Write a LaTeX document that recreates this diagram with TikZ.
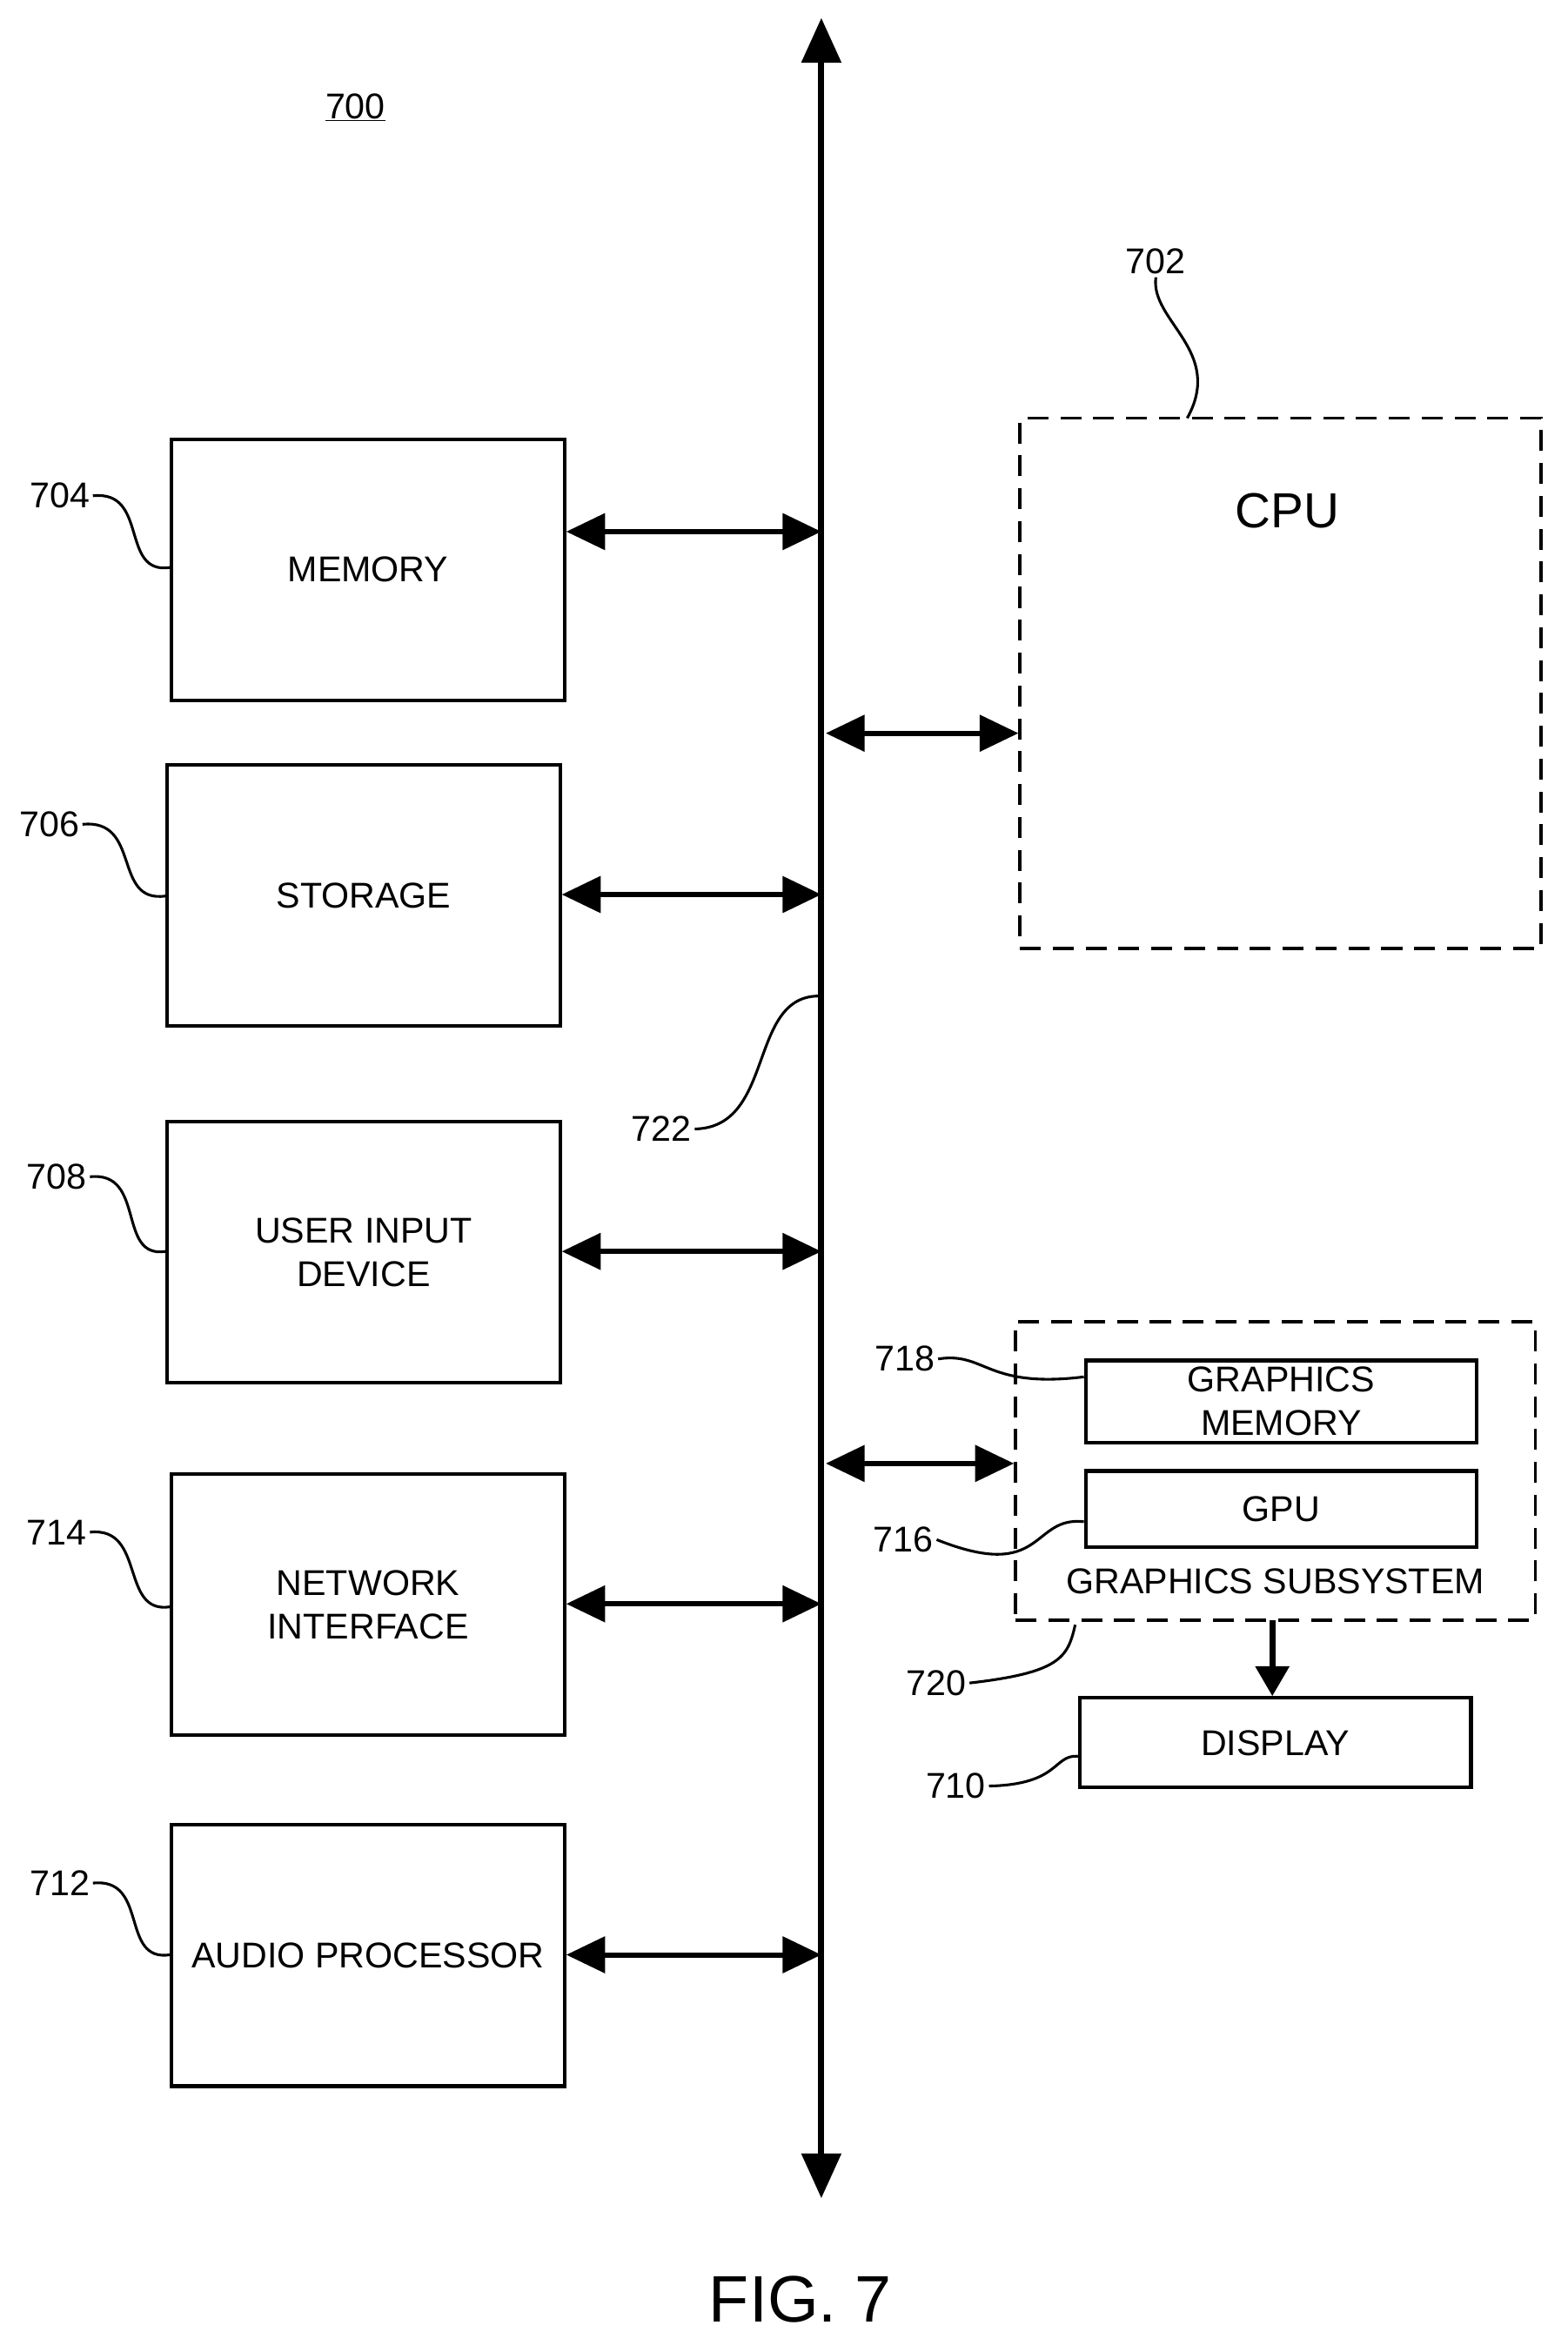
\documentclass[tikz,border=0pt]{standalone}
\usepackage{fontspec}
\setmainfont{Liberation Sans}
\usetikzlibrary{arrows.meta}
\begin{document}
\begin{tikzpicture}[x=1pt,y=-1pt,
  box/.style={draw,line width=2.4pt,inner sep=0pt,align=center,font=\fontsize{24}{29}\selectfont},
  dbox/.style={draw,line width=2pt,dash pattern=on 14pt off 8pt,inner sep=0pt},
  lbl/.style={font=\fontsize{24}{29}\selectfont,inner sep=2pt},
  sq/.style={line width=1.8pt},
  dar/.style={line width=3.5pt,{Triangle[length=26pt,width=24pt]}-{Triangle[length=26pt,width=24pt]}},
  sar/.style={line width=4pt,-{Triangle[length=20pt,width=22pt]}}]
\useasboundingbox (0,0) rectangle (1050,1575);
\newcommand{\bx}[6]{\node[box,minimum width=#4-#2,minimum height=#5-#3] (#1) at ({(#2+#4)/2},{(#3+#5)/2}) {#6};}
% bus
\coordinate (bt) at (550,12);
\coordinate (bb) at (550,1472);
\draw[line width=4pt,{Triangle[length=30pt,width=26pt]}-{Triangle[length=30pt,width=26pt]}] (bt) -- (bb);
\node[lbl] (n700) at (238,72) {\underline{700}};
% left boxes
\bx{mem}{115}{294}{378}{469}{MEMORY}
\bx{sto}{112}{512}{375}{687}{STORAGE}
\bx{uid}{112}{751}{375}{926}{USER INPUT\\DEVICE}
\bx{net}{115}{987}{378}{1162}{NETWORK\\INTERFACE}
\bx{aud}{115}{1222}{378}{1397}{AUDIO PROCESSOR}
\coordinate (b1) at (550,356); \draw[dar] (mem.east |- b1) -- (b1);
\coordinate (b2) at (550,599); \draw[dar] (sto.east |- b2) -- (b2);
\coordinate (b3) at (550,838); \draw[dar] (uid.east |- b3) -- (b3);
\coordinate (b4) at (550,1074); \draw[dar] (net.east |- b4) -- (b4);
\coordinate (b5) at (550,1309); \draw[dar] (aud.east |- b5) -- (b5);
\node[lbl] (n704) at (40,332) {704};
\draw[sq] (n704.east) .. controls (100,328) and (80,385) .. (mem.west |- 0,380);
\node[lbl] (n706) at (33,552) {706};
\draw[sq] (n706.east) .. controls (95,548) and (75,605) .. (sto.west |- 0,600);
\node[lbl] (n708) at (38,788) {708};
\draw[sq] (n708.east) .. controls (98,784) and (78,843) .. (uid.west |- 0,838);
\node[lbl] (n714) at (38,1026) {714};
\draw[sq] (n714.east) .. controls (98,1022) and (80,1081) .. (net.west |- 0,1076);
\node[lbl] (n712) at (40,1261) {712};
\draw[sq] (n712.east) .. controls (100,1257) and (80,1314) .. (aud.west |- 0,1309);
% CPU
\node[dbox,minimum width=349pt,minimum height=355pt] (cpu) at (857.5,457.5) {};
\node[font=\fontsize{33}{40}\selectfont] (cput) at (862,342) {CPU};
\coordinate (b6) at (553,491); \draw[dar] (b6) -- (cpu.west |- b6);
\node[lbl] (n702) at (774,175) {702};
\draw[sq] (n702.south) .. controls (770,215) and (820,235) .. (795,280);
\node[lbl] (n722) at (443,756) {722};
\coordinate (b7) at (550,667);
\draw[sq] (n722.east) .. controls (520,755) and (500,665) .. (b7);
% graphics subsystem
\node[dbox,minimum width=348pt,minimum height=200pt] (gss) at (854,985) {};
\bx{gmem}{727}{911}{989}{966}{GRAPHICS\\MEMORY}
\bx{gpu}{727}{985}{989}{1036}{GPU}
\node[lbl] (gsst) at (854,1059) {GRAPHICS SUBSYSTEM};
\coordinate (b8) at (553,980); \draw[dar] (b8) -- (gss.west |- b8);
\bx{disp}{723}{1137}{985}{1197}{DISPLAY}
\draw[sar] (852,1085) -- (disp.north -| 852,0);
\node[lbl] (n718) at (606,910) {718};
\draw[sq] (n718.east) .. controls (660,905) and (660,930) .. (gmem.west |- 0,922);
\node[lbl] (n716) at (605,1031) {716};
\draw[sq] (n716.east) .. controls (700,1060) and (690,1015) .. (gpu.west |- 0,1019);
\node[lbl] (n720) at (627,1127) {720};
\draw[sq] (n720.east) .. controls (710,1120) and (715,1110) .. (720,1088);
\node[lbl] (n710) at (640,1196) {710};
\draw[sq] (n710.east) .. controls (710,1195) and (705,1175) .. (disp.west |- 0,1176);
\node[font=\fontsize{44}{52}\selectfont] (fig) at (536,1540) {FIG. 7};
\end{tikzpicture}
\end{document}
